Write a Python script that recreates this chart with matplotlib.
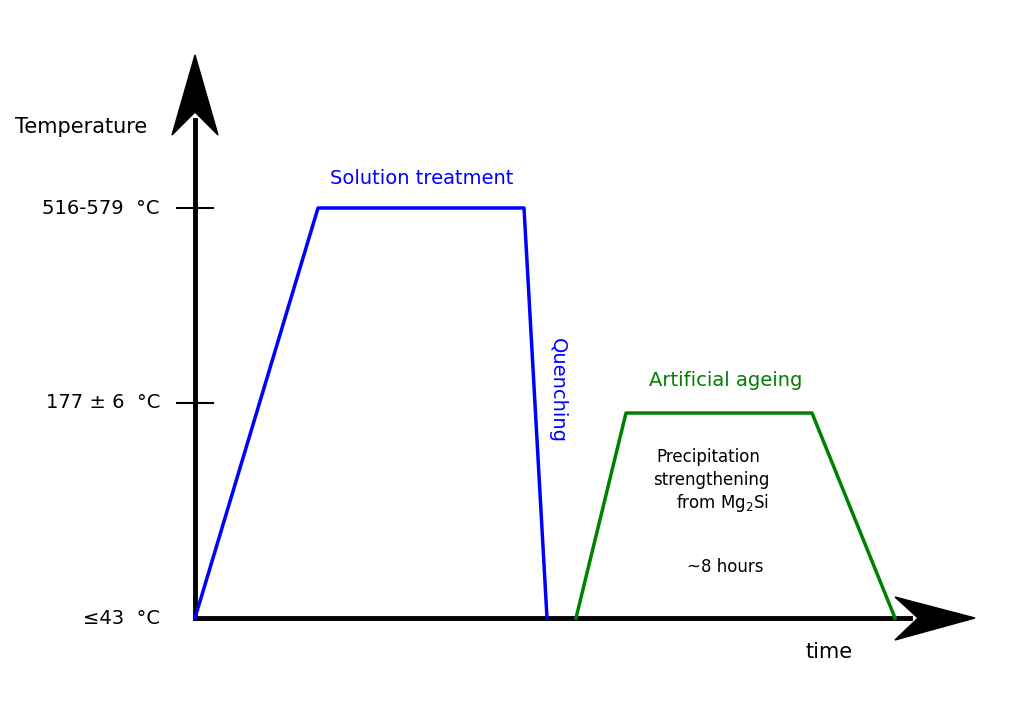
import matplotlib
matplotlib.use("Agg")
import matplotlib.pyplot as plt
from matplotlib.patches import Polygon

# schematic data (time units, temperature level units in drawing coords)
solution_t = [195, 318, 524, 547]
solution_T = [618, 208, 208, 618]
ageing_t = [576, 626, 812, 895]
ageing_T = [618, 413, 413, 618]
tick_levels = [618, 403, 208]
tick_labels = ["≤43  °C", "177 ± 6  °C", "516-579  °C"]

fig = plt.figure(figsize=(10.32, 7.13), dpi=100)
ax = fig.add_axes([0, 0, 1, 1])
ax.set_xlim(0, 1032)
ax.set_ylim(713, 0)
ax.axis("off")

# axes
ax.plot([195, 195], [618, 120], color="black", lw=3.5)
ax.plot([195, 910], [618, 618], color="black", lw=3.5)
ax.add_patch(Polygon([[195, 55], [172, 135], [195, 112], [218, 135]], closed=True, color="black"))
ax.add_patch(Polygon([[975, 618], [895, 597], [918, 618], [895, 640]], closed=True, color="black"))

for lv, lb in zip(tick_levels, tick_labels):
    if lv != 618:
        ax.plot([177, 213], [lv, lv], color="black", lw=1.5)
    ax.text(160, lv, lb, ha="right", va="center", fontsize=14)

ax.text(15, 127, "Temperature", fontsize=15, va="center")
ax.text(805, 652, "time", fontsize=15, va="center")

ax.plot(solution_t, solution_T, color="#0000ff", lw=2.5)
ax.plot(ageing_t, ageing_T, color="#008000", lw=2.5)

ax.text(422, 179, "Solution treatment", color="#0000ff", fontsize=14, ha="center", va="center")
ax.text(557, 390, "Quenching", color="#0000ff", fontsize=14, ha="center", va="center", rotation=-90)
ax.text(726, 381, "Artificial ageing", color="#008000", fontsize=14, ha="center", va="center")
ax.text(708, 457, "Precipitation", fontsize=12, ha="center", va="center")
ax.text(711, 480, "strengthening", fontsize=12, ha="center", va="center")
ax.text(722, 503, "from Mg$_2$Si", fontsize=12, ha="center", va="center")
ax.text(725, 567, "~8 hours", fontsize=12, ha="center", va="center")

fig.savefig("out.png", dpi=100)
